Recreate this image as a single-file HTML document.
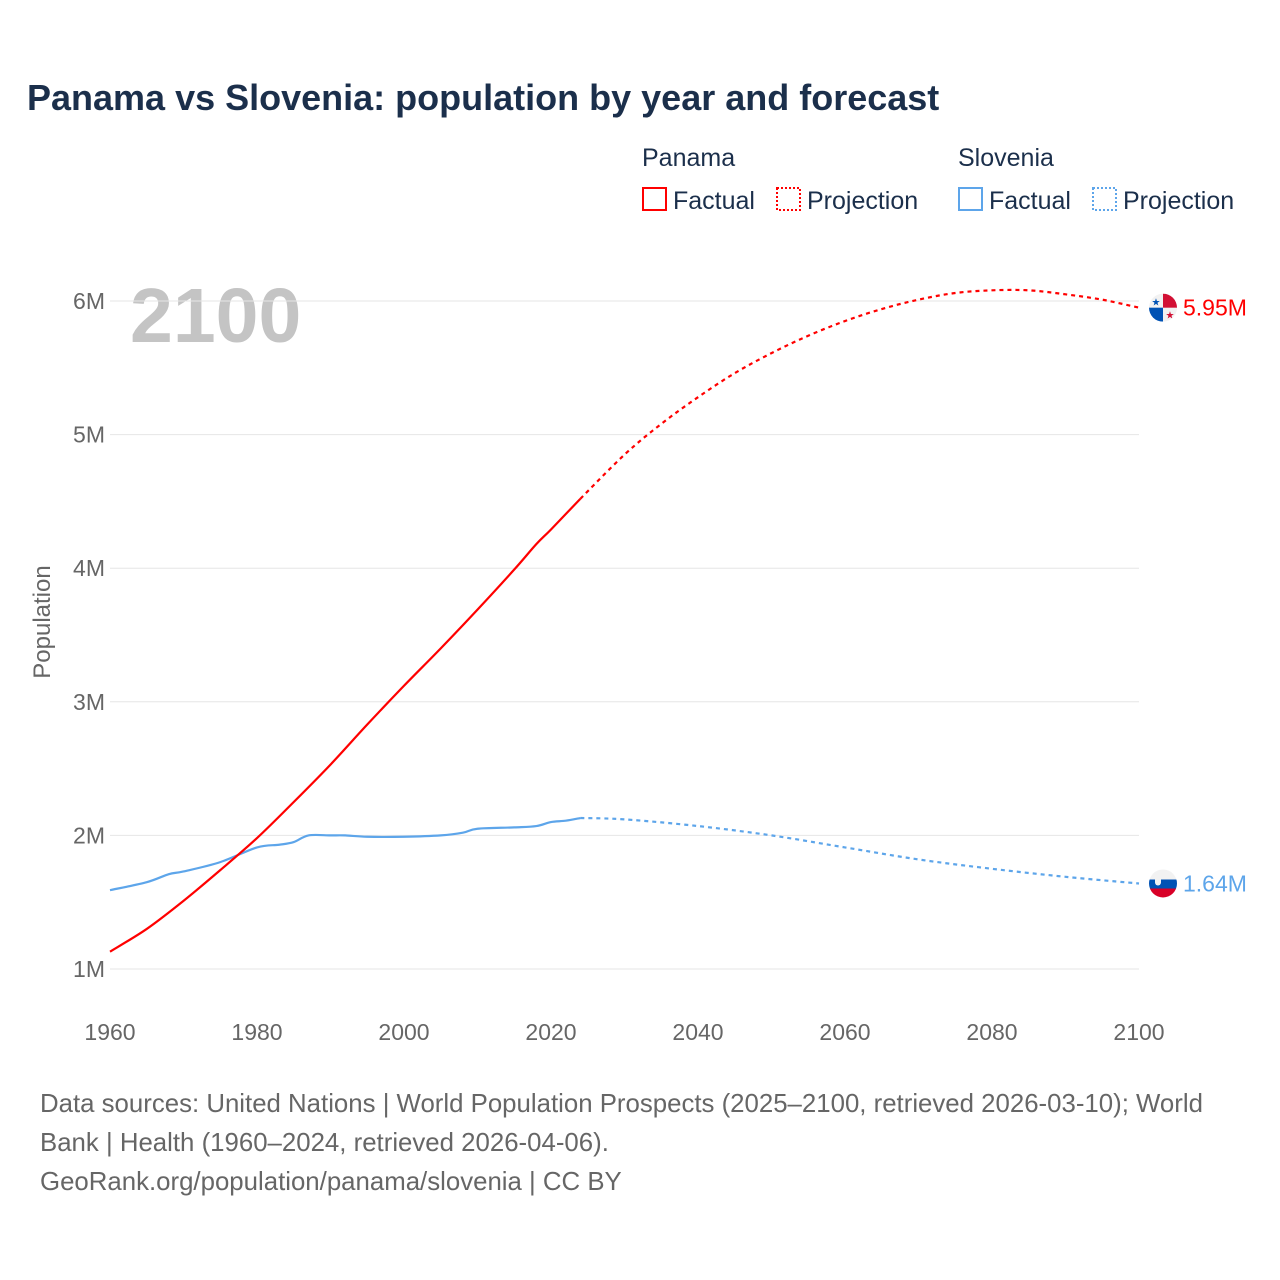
<!DOCTYPE html>
<html><head><meta charset="utf-8"><style>
body{margin:0;background:#fff}
svg{display:block;font-family:"Liberation Sans",sans-serif}
</style></head><body>
<svg id="chart" width="1280" height="1280" viewBox="0 0 1280 1280">
<text x="27" y="110" font-size="36" font-weight="bold" fill="#1b2f4b">Panama vs Slovenia: population by year and forecast</text>
<g font-size="25" fill="#1b2f4b">
<text x="642" y="166">Panama</text>
<rect x="643" y="188" width="23" height="22" fill="none" stroke="#f00" stroke-width="2"/>
<text x="673" y="209">Factual</text>
<rect x="777" y="188" width="23" height="22" fill="none" stroke="#f00" stroke-width="2" stroke-dasharray="2,2"/>
<text x="807" y="209">Projection</text>
<text x="958" y="166">Slovenia</text>
<rect x="959" y="188" width="23" height="22" fill="none" stroke="#5da5ea" stroke-width="2"/>
<text x="989" y="209">Factual</text>
<rect x="1093" y="188" width="23" height="22" fill="none" stroke="#5da5ea" stroke-width="2" stroke-dasharray="2,2"/>
<text x="1123" y="209">Projection</text>
</g>
<text x="130" y="342" font-size="77" font-weight="bold" fill="#c4c4c4">2100</text>
<text transform="translate(50,622) rotate(-90)" text-anchor="middle" font-size="24" fill="#666">Population</text>
<g id="grid"></g><g id="axes"></g><g id="series"></g><g id="ends"></g>
<g font-size="25.8" fill="#666">
<text x="40" y="1112">Data sources: United Nations | World Population Prospects (2025–2100, retrieved 2026-03-10); World</text>
<text x="40" y="1151">Bank | Health (1960–2024, retrieved 2026-04-06).</text>
<text x="40" y="1190">GeoRank.org/population/panama/slovenia | CC BY</text>
</g>
</svg>
<script>
const xTicks=[1960,1980,2000,2020,2040,2060,2080,2100];
const yTicks=[1,2,3,4,5,6];
const panamaYears=[1960,1965,1970,1975,1980,1985,1990,1995,2000,2005,2010,2015,2018,2020,2024];
const panamaValues=[1.13,1.30,1.51,1.74,1.98,2.25,2.53,2.83,3.12,3.40,3.69,3.99,4.18,4.29,4.52];
const panamaProjYears=[2024,2030,2035,2040,2045,2050,2055,2060,2065,2070,2075,2080,2085,2090,2095,2100];
const panamaProjValues=[4.52,4.85,5.08,5.28,5.46,5.61,5.74,5.85,5.94,6.01,6.06,6.08,6.08,6.05,6.01,5.95];
const sloYears=[1960,1965,1968,1970,1975,1980,1983,1985,1987,1990,1992,1995,2000,2005,2008,2010,2015,2018,2020,2022,2024];
const sloValues=[1.59,1.65,1.71,1.73,1.80,1.91,1.93,1.95,2.00,2.00,2.00,1.99,1.99,2.00,2.02,2.05,2.06,2.07,2.10,2.11,2.13];
const sloProjYears=[2024,2030,2040,2050,2060,2070,2080,2090,2100];
const sloProjValues=[2.13,2.12,2.07,2.00,1.91,1.82,1.75,1.69,1.64];
const NS="http://www.w3.org/2000/svg";
const x=v=>110+(v-1960)*(1029/140);
const y=v=>969-(v-1)*133.6;
function mk(tag,attrs,parent){const e=document.createElementNS(NS,tag);for(const k in attrs)e.setAttribute(k,attrs[k]);document.getElementById(parent).appendChild(e);return e;}
yTicks.forEach(t=>{
 const l=mk('line',{x1:110,x2:1139,y1:y(t),y2:y(t),stroke:'#e6e6e6','stroke-width':1},'grid');
 
 
 const tx=mk('text',{x:105,y:y(t)+8,'text-anchor':'end','font-size':23,fill:'#666'},'axes');
 tx.textContent=t+'M';
 
 
});
xTicks.forEach(t=>{
 const tx=mk('text',{x:x(t),y:1040,'text-anchor':'middle','font-size':23,fill:'#666'},'axes');
 tx.textContent=t;
 
 
});
function smooth(pts){
 let d='M'+pts[0][0]+','+pts[0][1];
 for(let i=0;i<pts.length-1;i++){
  const p0=pts[Math.max(0,i-1)],p1=pts[i],p2=pts[i+1],p3=pts[Math.min(pts.length-1,i+2)];
  const c1=[p1[0]+(p2[0]-p0[0])/6,p1[1]+(p2[1]-p0[1])/6];
  const c2=[p2[0]-(p3[0]-p1[0])/6,p2[1]-(p3[1]-p1[1])/6];
  d+=' C'+c1+' '+c2+' '+p2;
 }
 return d;
}
function line(ys,vs,color,dash,name){
 const p=mk('path',{d:smooth(ys.map((a,i)=>[x(a),y(vs[i])])),fill:'none',stroke:color,'stroke-width':2.2,'stroke-linejoin':'round'},'series');
 if(dash)p.setAttribute('stroke-dasharray',dash);
 
 
}
line(sloYears,sloValues,'#5da5ea',null,'slovenia-factual-line');
line(sloProjYears,sloProjValues,'#5da5ea','4,4','slovenia-projection-line');
line(panamaYears,panamaValues,'#f00',null,'panama-factual-line');
line(panamaProjYears,panamaProjValues,'#f00','4,4','panama-projection-line');
const pe=panamaProjValues[panamaProjValues.length-1], se=sloProjValues[sloProjValues.length-1];
const g=document.getElementById('ends');
g.insertAdjacentHTML('beforeend',`
<g transform="translate(1163,${y(pe)})">
<clipPath id="cp"><circle r="14"/></clipPath><g clip-path="url(#cp)">
<rect x="-14" y="-14" width="28" height="28" fill="#f2f2f2"/><rect x="0" y="-14" width="14" height="14" fill="#d21034"/><rect x="-14" y="0" width="14" height="14" fill="#0052b4"/>
<text x="-7" y="-2" font-size="10" text-anchor="middle" fill="#0052b4">★</text><text x="7" y="11" font-size="10" text-anchor="middle" fill="#d21034">★</text></g></g>
<text x="1183" y="${y(pe)+8}" font-size="23" fill="#f00">5.95M</text>
<g transform="translate(1163,${y(se)})">
<clipPath id="cs"><circle r="14"/></clipPath><g clip-path="url(#cs)">
<rect x="-14" y="-14" width="28" height="10" fill="#f2f2f2"/><rect x="-14" y="-4" width="28" height="9" fill="#0052b4"/><rect x="-14" y="5" width="28" height="10" fill="#d80027"/>
<path d="M-8,-6 h6 v5 a3,3 0 0 1 -6,0z" fill="#f2f2f2"/></g></g>
<text x="1183" y="${y(se)+8}" font-size="23" fill="#5da5ea">1.64M</text>`);
</script>
</body></html>
